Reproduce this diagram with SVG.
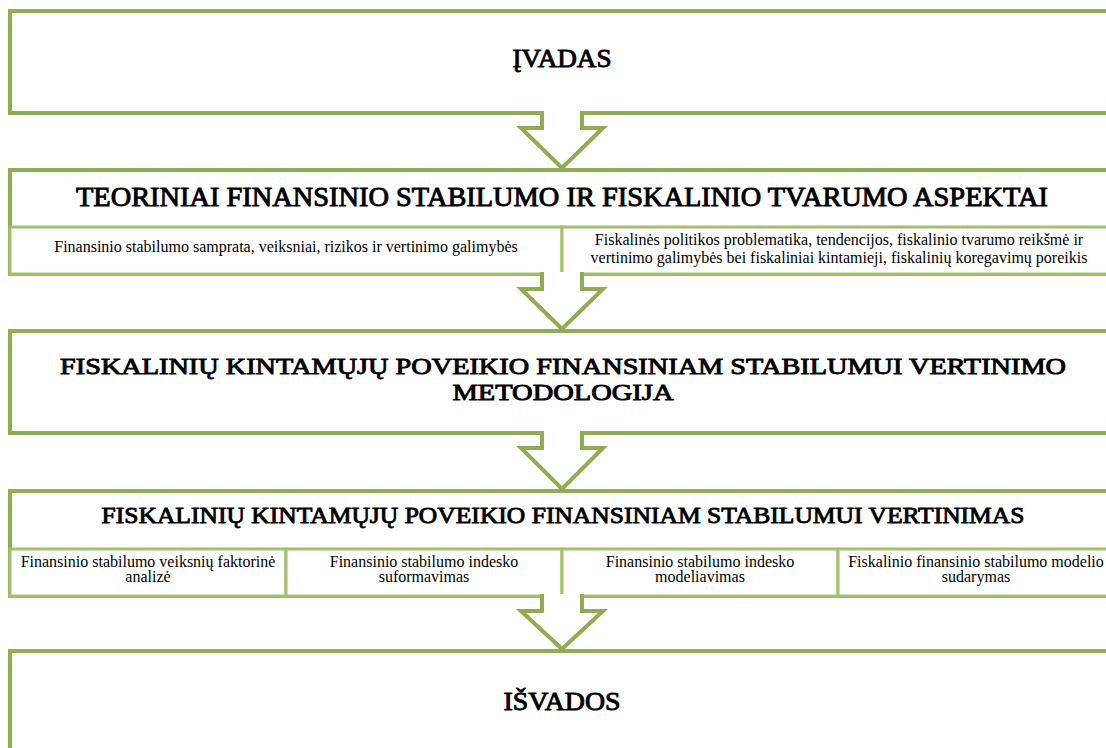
<svg xmlns="http://www.w3.org/2000/svg" width="1106" height="748" viewBox="0 0 1106 748">
<style>
.box{fill:#ffffff;stroke:#8EAC50;stroke-width:4}
.sub{fill:#ffffff;stroke:#A3C16A;stroke-width:3}
.arrow{fill:#ffffff;stroke:#8EAC50;stroke-width:4;stroke-linejoin:miter}
.h{font-family:"Liberation Serif","Times New Roman",serif;font-weight:normal;fill:#000;stroke:#000;stroke-width:0.9;text-anchor:middle}
.s{font-family:"Liberation Serif","Times New Roman",serif;font-size:16px;fill:#000;text-anchor:middle}
</style>
<rect width="1106" height="748" fill="#ffffff"/>
<g id="node-ivadas">
<rect class="box" x="10" y="11" width="1110" height="102"/>
<text class="h" x="562" y="67" font-size="26" textLength="99" lengthAdjust="spacingAndGlyphs">ĮVADAS</text>
</g>
<g id="node-teoriniai">
<rect class="box" x="10" y="170" width="1110" height="104"/>
<text class="h" x="562" y="206" font-size="26.5" textLength="972" lengthAdjust="spacingAndGlyphs">TEORINIAI FINANSINIO STABILUMO IR FISKALINIO TVARUMO ASPEKTAI</text>
<rect class="sub" x="10" y="227" width="552" height="47"/>
<rect class="sub" x="562" y="227" width="558" height="47"/>
<text class="s" x="286" y="252">Finansinio stabilumo samprata, veiksniai, rizikos ir vertinimo galimybės</text>
<text class="s" x="839" y="245">Fiskalinės politikos problematika, tendencijos, fiskalinio tvarumo reikšmė ir</text>
<text class="s" x="839" y="263">vertinimo galimybės bei fiskaliniai kintamieji, fiskalinių koregavimų poreikis</text>
</g>
<g id="node-metodologija">
<rect class="box" x="10" y="331" width="1110" height="102"/>
<text class="h" x="563" y="374" font-size="23" textLength="1006" lengthAdjust="spacingAndGlyphs">FISKALINIŲ KINTAMŲJŲ POVEIKIO FINANSINIAM STABILUMUI VERTINIMO</text>
<text class="h" x="563" y="400" font-size="23" textLength="221" lengthAdjust="spacingAndGlyphs">METODOLOGIJA</text>
</g>
<g id="node-vertinimas">
<rect class="box" x="10" y="491" width="1110" height="105"/>
<text class="h" x="563" y="523" font-size="24" textLength="923" lengthAdjust="spacingAndGlyphs">FISKALINIŲ KINTAMŲJŲ POVEIKIO FINANSINIAM STABILUMUI VERTINIMAS</text>
<rect class="sub" x="10" y="549" width="276" height="47"/>
<rect class="sub" x="286" y="549" width="276" height="47"/>
<rect class="sub" x="562" y="549" width="276" height="47"/>
<rect class="sub" x="838" y="549" width="282" height="47"/>
<text class="s" x="148" y="567">Finansinio stabilumo veiksnių faktorinė</text>
<text class="s" x="148" y="582">analizė</text>
<text class="s" x="424" y="567">Finansinio stabilumo indesko</text>
<text class="s" x="424" y="582">suformavimas</text>
<text class="s" x="700" y="567">Finansinio stabilumo indesko</text>
<text class="s" x="700" y="582">modeliavimas</text>
<text class="s" x="976" y="567">Fiskalinio finansinio stabilumo modelio</text>
<text class="s" x="976" y="582">sudarymas</text>
</g>
<g id="node-isvados">
<rect class="box" x="10" y="651" width="1110" height="200"/>
<text class="h" x="562" y="710" font-size="26" textLength="117" lengthAdjust="spacingAndGlyphs">IŠVADOS</text>
</g>
<g id="connectors">
<path class="arrow" d="M542,111 V128 H521 L562,168 L603,128 H582 V111"/>
<path class="arrow" d="M542,272 V289 H521 L562,329 L603,289 H582 V272"/>
<path class="arrow" d="M542,431 V448 H521 L562,489 L603,448 H582 V431"/>
<path class="arrow" d="M542,594 V611 H521 L562,649 L603,611 H582 V594"/>
</g>
</svg>
